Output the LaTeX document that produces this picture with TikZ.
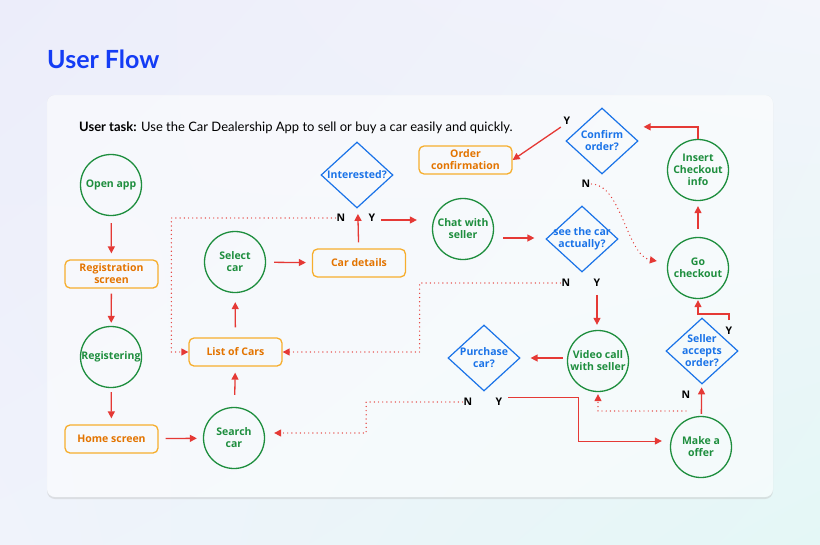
\documentclass[tikz,border=0pt]{standalone}
\usepackage{fontspec}
\setmainfont{Lato}
\newfontfamily\nodefont{Open Sans}
\usetikzlibrary{shapes.geometric,arrows.meta,calc,shadings}
\definecolor{flowred}{RGB}{229,57,53}
\definecolor{stategreen}{RGB}{30,142,62}
\definecolor{screenedge}{RGB}{246,174,45}
\definecolor{screentext}{RGB}{227,116,0}
\definecolor{decblue}{RGB}{26,115,232}
\definecolor{titleblue}{RGB}{20,60,245}
\definecolor{bgA}{RGB}{236,237,250}
\definecolor{bgB}{RGB}{243,245,251}
\definecolor{bgC}{RGB}{240,243,251}
\definecolor{bgD}{RGB}{228,247,246}
\begin{document}
\begin{tikzpicture}[x=1pt,y=-1pt]
	\path [use as bounding box] (0,0) rectangle (820,544);
	\tikzstyle{state} = [circle, draw=stategreen, line width=1.3pt, minimum size=61pt, inner sep=0pt, text=stategreen, font=\nodefont\fontsize{10.5}{12}\selectfont\bfseries, align=center]
	\tikzstyle{screen} = [rectangle, rounded corners=5pt, draw=screenedge, line width=1.3pt, minimum width=93pt, minimum height=28pt, text=screentext, font=\nodefont\fontsize{10.5}{12}\selectfont\bfseries, align=center]
	\tikzstyle{decision} = [diamond, draw=decblue, line width=1.2pt, minimum width=72pt, minimum height=66pt, inner sep=0pt]
	\tikzstyle{dtext} = [text=decblue, font=\nodefont\fontsize{10.5}{12}\selectfont\bfseries, align=center, inner sep=0pt]
	\tikzstyle{yn} = [font=\nodefont\fontsize{10.5}{12}\selectfont\bfseries, inner sep=1pt]
	\tikzstyle{flow} = [draw=flowred, line width=1.3pt, -{Triangle[length=7pt,width=7pt]}, shorten <=7pt, shorten >=6pt]
	\tikzstyle{dotflow} = [draw=flowred, line width=1.4pt, line cap=round, dash pattern=on 0pt off 4.2pt, -{Triangle[length=7pt,width=7pt]}]
	\shade[upper left=bgA, upper right=bgB, lower left=bgC, lower right=bgD] (0,0) rectangle (820,544);
	\fill[gray!50, opacity=.4, even odd rule, rounded corners=8pt] (47,95) rectangle (773,499) (47,95) rectangle (773,497);
	\fill[white, opacity=.55, rounded corners=8pt] (47,95) rectangle (773,497);
	\node[anchor=base west, inner sep=0pt, text=titleblue, font=\fontsize{25}{30}\selectfont\bfseries] (title) at (47,68) {User Flow};
	\node[anchor=base west, inner sep=0pt, font=\fontsize{13}{15}\selectfont] (task) at (79,131) {\textbf{User task:} Use the Car Dealership App to sell or buy a car easily and quickly.};
	\node[state] (open) at (111,185) {Open app};
	\node[screen] (regscr) at (111.5,274) {Registration\\screen};
	\node[state] (registering) at (111,357) {Registering};
	\node[screen] (home) at (111.5,439) {Home screen};
	\node[state] (search) at (234,438) {Search\\car};
	\node[screen] (list) at (235.5,352) {List of Cars};
	\node[state] (select) at (235,262) {Select\\car};
	\node[screen] (details) at (359,263) {Car details};
	\node[decision, label={[dtext]center:Interested?}] (interested) at (357,175) {};
	\node[screen] (orderconf) at (465.5,160) {Order\\confirmation};
	\node[state] (chat) at (463,229) {Chat with\\seller};
	\node[decision, label={[dtext]center:{see the car\\actually?}}] (seecar) at (582,239) {};
	\node[decision, label={[dtext]center:{Confirm\\order?}}] (confirm) at (602,141) {};
	\node[state] (insert) at (698,170) {Insert\\Checkout\\info};
	\node[state] (gocheck) at (698,268) {Go\\checkout};
	\node[state] (video) at (598,361) {Video call\\with seller};
	\node[decision, label={[dtext]center:{Purchase\\car?}}] (purchase) at (484,358) {};
	\node[decision, label={[dtext]center:{Seller\\accepts\\order?}}] (seller) at (702,351) {};
	\node[state] (offer) at (701,447) {Make a\\offer};
	\node[yn] (intN) at (341,218) {N};
	\node[yn] (intY) at (372,218) {Y};
	\node[yn] (seeN) at (566,283) {N};
	\node[yn] (seeY) at (597,283) {Y};
	\node[yn] (confY) at (567,121) {Y};
	\node[yn] (confN) at (586,184) {N};
	\node[yn] (purN) at (468,402) {N};
	\node[yn] (purY) at (499,402) {Y};
	\node[yn] (sellY) at (729,331) {Y};
	\node[yn] (sellN) at (686,395) {N};
	\draw[flow] (open) -- (regscr);
	\draw[flow, shorten <=5pt, shorten >=3pt] (regscr) -- (registering);
	\draw[flow, shorten <=4pt] (registering) -- (home);
	\draw[flow] (home) -- (search);
	\draw[flow, shorten <=12pt] (search) -- (list);
	\draw[flow, shorten <=10pt, shorten >=9pt] (list) -- (select);
	\draw[flow, shorten <=8pt] (select) -- (details);
	\draw[flow, shorten <=6pt] (details) -- (interested);
	\draw[flow, shorten <=5pt, shorten >=15pt] ([yshift=-2pt]intY.east) -- ([yshift=-2pt]intY.east -| chat.west);
	\draw[flow, shorten <=9pt, shorten >=11pt] ([yshift=-9pt]chat.east) -- ([yshift=-9pt]chat.east -| seecar.west);
	\draw[flow, shorten <=7pt, shorten >=5pt] (seeY) -- (seeY |- video.north);
	\draw[flow, shorten <=4pt, shorten >=10pt] ([yshift=3pt]video.west) -- ([yshift=3pt]video.west -| purchase.east);
	\draw[flow, line width=1pt, shorten <=5pt, shorten >=8pt] ([yshift=5pt]purY.east) -- ++(75,0) |- ([yshift=6pt]offer.west);
	\draw[flow, shorten <=2pt, shorten >=3pt] (offer) -- (seller);
	\draw[flow, shorten <=6pt, shorten >=1pt] (sellY.north) -- ++(0,-12) -| (gocheck.south);
	\draw[flow, shorten <=8pt, shorten >=5pt] (gocheck) -- (insert);
	\draw[flow, shorten <=0pt, shorten >=5pt] (insert.north) -- ++(0,-12) coordinate (ic) -- (ic -| confirm.east);
	\draw[flow, shorten <=2pt, shorten >=0pt] (confY.south west) -- (orderconf.east);
	\draw[dotflow] (intN.west) -| ([xshift=-17pt]list.west) -- (list.west);
	\draw[dotflow] (seeN.west) -| ([xshift=137pt]list.east) -- (list.east);
	\draw[dotflow] (purN.west) -| ([xshift=101pt,yshift=5pt]search.east) -- ([xshift=9pt,yshift=5pt]search.east);
	\draw[dotflow] ([yshift=-16pt]sellN.center) -| ([yshift=-2pt]video.south);
	\draw[dotflow] (confN.east) .. controls +(30,0) and +(-30,-5) .. ([xshift=-10pt,yshift=7pt]gocheck.west);
\end{tikzpicture}
\end{document}
